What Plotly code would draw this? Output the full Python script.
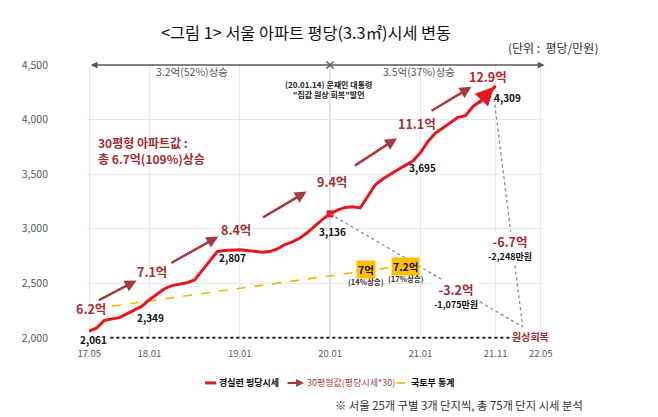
import plotly.graph_objects as go

# ---------------- data ----------------
tick_months = [0, 8, 20, 32, 44, 54, 60]
tick_labels = ["17.05", "18.01", "19.01", "20.01", "21.01", "21.11", "22.05"]

red_m = list(range(0, 55))
red_v = [2061, 2090, 2160, 2175, 2185, 2220, 2255, 2290, 2349, 2400, 2450, 2478,
         2492, 2505, 2530, 2620, 2710, 2790, 2800, 2805, 2807, 2800, 2790, 2785,
         2790, 2815, 2855, 2880, 2915, 2965, 3025, 3085, 3136, 3170, 3195, 3200,
         3190, 3290, 3400, 3455, 3500, 3540, 3580, 3620, 3695, 3800, 3875, 3925,
         3970, 4020, 4035, 4120, 4170, 4230, 4309]

yel_m = [3, 20, 32, 42]
yel_v = [2290, 2453, 2568, 2664]

label_m = [0, 8, 20, 32, 44, 54]
label_v = [2061, 2349, 2807, 3136, 3695, 4309]
price30 = ["6.2억", "7.1억", "8.4억", "9.4억", "11.1억", "12.9억"]

decline_big = ["-3.2억", "-6.7억"]
decline_small = ["-1,075만원", "-2,248만원"]

DARKRED = "#9e2f35"
ARROW = "#a53b41"
RED = "#e8161d"
YEL = "#f2b705"
GRAY = "#595959"
FONT = "Noto Sans CJK KR"

fig = go.Figure()

fig.add_trace(go.Scatter(x=yel_m, y=yel_v, mode="lines",
                         line=dict(color=YEL, width=1.6, dash="dash"),
                         hoverinfo="skip", showlegend=False))
fig.add_trace(go.Scatter(x=red_m, y=red_v, mode="lines",
                         line=dict(color=RED, width=3),
                         hoverinfo="skip", showlegend=False))
fig.add_trace(go.Scatter(x=[label_m[3]], y=[label_v[3]], mode="markers",
                         marker=dict(symbol="square", size=7, color=RED),
                         hoverinfo="skip", showlegend=False))
fig.add_trace(go.Scatter(x=[32], y=[4500], mode="markers", cliponaxis=False,
                         marker=dict(symbol="x-thin", size=7,
                                     line=dict(color=GRAY, width=1.5)),
                         hoverinfo="skip", showlegend=False))
fig.add_trace(go.Scatter(x=[2.8, 56.2], y=[2000, 2000], mode="lines",
                         line=dict(color="#222222", width=2, dash="dot"),
                         hoverinfo="skip", showlegend=False))

shapes = []
shapes.append(dict(type="line", xref="x", yref="y", x0=32, x1=32, y0=2000, y1=4500,
                   line=dict(color="#c8c8c8", width=1.2), layer="below"))
shapes.append(dict(type="line", xref="x", yref="y", x0=32, y0=3136, x1=57.6, y1=2100,
                   line=dict(color="#8a8a8a", width=1.3, dash="dot")))
shapes.append(dict(type="line", xref="x", yref="y", x0=53.8, y0=4190, x1=57.6, y1=2100,
                   line=dict(color="#8a8a8a", width=1.3, dash="dot")))

ann = []
ann.append(dict(x=60.5, y=4500, ax=0, ay=4500, xref="x", yref="y", axref="x", ayref="y",
                text="", showarrow=True, arrowhead=2, startarrowhead=2,
                arrowside="end+start", arrowsize=0.9, startarrowsize=0.9,
                arrowwidth=1.5, arrowcolor=GRAY))
ann.append(dict(x=13.65, y=4439, xref="x", yref="y", text="3.2억(52%)상승",
                showarrow=False, font=dict(size=10.5, color=GRAY, family=FONT)))
ann.append(dict(x=43.8, y=4439, xref="x", yref="y", text="3.5억(37%)상승",
                showarrow=False, font=dict(size=10.5, color=GRAY, family=FONT)))
ann.append(dict(x=31.8, y=4278, xref="x", yref="y",
                text="<b>(20.01.14) 문재인 대통령<br>\"집값 원상 회복\"발언</b>",
                showarrow=False, font=dict(size=8, color="#222222", family=FONT)))

arrows30 = [((1.1, 2339), (6.3, 2525)),
            ((10.7, 2678), (17.15, 2928)),
            ((22.9, 3096), (28.9, 3340)),
            ((35.1, 3569), (40.9, 3829)),
            ((45.3, 4072), (50.8, 4301))]
for (tx, ty), (hx, hy) in arrows30:
    ann.append(dict(x=hx, y=hy, ax=tx, ay=ty, xref="x", yref="y", axref="x", ayref="y",
                    text="", showarrow=True, arrowhead=2, arrowsize=0.95,
                    arrowwidth=2.5, arrowcolor=ARROW))
ann.append(dict(x=53.8, y=4300, ax=51.6, ay=4140, xref="x", yref="y", axref="x", ayref="y",
                text="", showarrow=True, arrowhead=2, arrowsize=1.15, arrowwidth=3.2,
                arrowcolor=RED))

price_pos = [(0.25, 2266), (8.4, 2607), (19.5, 2989), (32.2, 3431), (43.6, 3966), (53.0, 4399)]
for (px, py), t in zip(price_pos, price30):
    ann.append(dict(x=px, y=py, xref="x", yref="y", text="<b>" + t + "</b>",
                    showarrow=False,
                    font=dict(size=12.5, color=(DARKRED if t != "12.9억" else "#b8262c"),
                              family=FONT)))

shifts = [(4, -8), (1, -18), (-7, -8), (2, -18), (2, -15), (12, -12)]
for m, v, (dx, dy) in zip(label_m, label_v, shifts):
    ann.append(dict(x=m, y=v, xref="x", yref="y", text="<b>{:,}</b>".format(v),
                    showarrow=False, xshift=dx, yshift=dy,
                    font=dict(size=10, color="#111111", family=FONT)))

ann.append(dict(x=0.02, y=0.688, xref="paper", yref="paper", xanchor="left",
                yanchor="middle", align="left", showarrow=False,
                text="<b>30평형 아파트값 :<br>총 6.7억(109%)상승</b>",
                font=dict(size=12, color=DARKRED, family=FONT)))

ann.append(dict(x=36.8, y=2627, xref="x", yref="y", text="<b>7억</b>", showarrow=False,
                bgcolor="#ffc000", borderpad=1,
                font=dict(size=10.5, color="#111111", family=FONT)))
ann.append(dict(x=36.8, y=2516, xref="x", yref="y", text="<b>(14%상승)</b>", showarrow=False,
                font=dict(size=7.5, color="#333333", family=FONT)))
ann.append(dict(x=42.0, y=2653, xref="x", yref="y", text="<b>7.2억</b>", showarrow=False,
                bgcolor="#ffc000", borderpad=1,
                font=dict(size=10.5, color="#111111", family=FONT)))
ann.append(dict(x=42.1, y=2547, xref="x", yref="y", text="<b>(17%상승)</b>", showarrow=False,
                font=dict(size=7.5, color="#333333", family=FONT)))

# decline labels: two-line annotations with a white box hiding the dotted lines
decline_pos = [(48.7, 2392), (55.85, 2830)]
for (dx_, dy_), big, small in zip(decline_pos, decline_big, decline_small):
    ann.append(dict(x=dx_, y=dy_, xref="x", yref="y", showarrow=False,
                    bgcolor="white", borderpad=0,
                    text="<b><span style='font-size:12.5px;color:" + DARKRED + "'>" + big +
                         "</span><br><span style='font-size:9px'>" + small + "</span></b>",
                    font=dict(size=10.3, color="#111111", family=FONT)))
ann.append(dict(x=58.7, y=2009, xref="x", yref="y", text="<b>원상회복</b>", showarrow=False,
                font=dict(size=10, color=DARKRED, family=FONT)))

ann.append(dict(x=1.125, y=1.065, xref="paper", yref="paper", xanchor="right",
                yanchor="middle", text="(단위 :  평당/만원)", showarrow=False,
                font=dict(size=12, color="#333333", family=FONT)))

LY = -0.156
shapes.append(dict(type="line", xref="paper", yref="paper", x0=0.259, x1=0.283, y0=LY, y1=LY,
                   line=dict(color=RED, width=3)))
ann.append(dict(x=0.286, y=LY, xref="paper", yref="paper", xanchor="left", yanchor="middle",
                text="<b>경실련 평당시세</b>", showarrow=False,
                font=dict(size=9, color="#111111", family=FONT)))
ann.append(dict(x=0.476, y=LY, ax=-18, ay=0, xref="paper", yref="paper",
                text="", showarrow=True, arrowhead=2, arrowsize=0.8, arrowwidth=2,
                arrowcolor=ARROW))
ann.append(dict(x=0.479, y=LY, xref="paper", yref="paper", xanchor="left", yanchor="middle",
                text="30평형값(평당시세*30)", showarrow=False,
                font=dict(size=9, color=ARROW, family=FONT)))
shapes.append(dict(type="line", xref="paper", yref="paper", x0=0.678, x1=0.702, y0=LY, y1=LY,
                   line=dict(color=YEL, width=1.6, dash="dash")))
ann.append(dict(x=0.706, y=LY, xref="paper", yref="paper", xanchor="left", yanchor="middle",
                text="<b>국토부 통계</b>", showarrow=False,
                font=dict(size=9, color="#111111", family=FONT)))

ann.append(dict(x=1.092, y=-0.235, xref="paper", yref="paper", xanchor="right",
                yanchor="middle",
                text="※ 서울 25개 구별 3개 단지씩, 총 75개 단지 시세 분석", showarrow=False,
                font=dict(size=11.3, color="#333333", family=FONT)))

# page body has an 8px margin; size the figure so it ends at the window edge
fig.update_layout(
    width=650, height=409,
    margin=dict(l=79, r=115, t=57, b=77),
    paper_bgcolor="white", plot_bgcolor="white",
    font=dict(family=FONT),
    title=dict(text="<그림 1> 서울 아파트 평당(3.3㎡)시세 변동",
               x=(306 - 8) / 650, y=1 - (33 - 8) / 409, xref="container", yref="container",
               xanchor="center", yanchor="middle",
               font=dict(size=16.3, color="#111111", family=FONT)),
    xaxis=dict(range=[-0.3, 60.3], tickmode="array", tickvals=tick_months,
               ticktext=tick_labels, showgrid=True, gridcolor="#e9e9e9",
               zeroline=False, showline=False, ticks="", ticklabelstandoff=6,
               tickfont=dict(size=9.5, color=GRAY, family=FONT)),
    yaxis=dict(range=[1980, 4500], tickmode="array",
               tickvals=[2000, 2500, 3000, 3500, 4000, 4500],
               ticktext=["2,000", "2,500", "3,000", "3,500", "4,000", "4,500"],
               showgrid=True, gridcolor="#e9e9e9", zeroline=False, showline=False,
               ticks="", ticklabelstandoff=38,
               tickfont=dict(size=10.5, color=GRAY, family=FONT)),
    shapes=shapes,
    annotations=ann,
    showlegend=False,
)

fig.write_html("out.html")
